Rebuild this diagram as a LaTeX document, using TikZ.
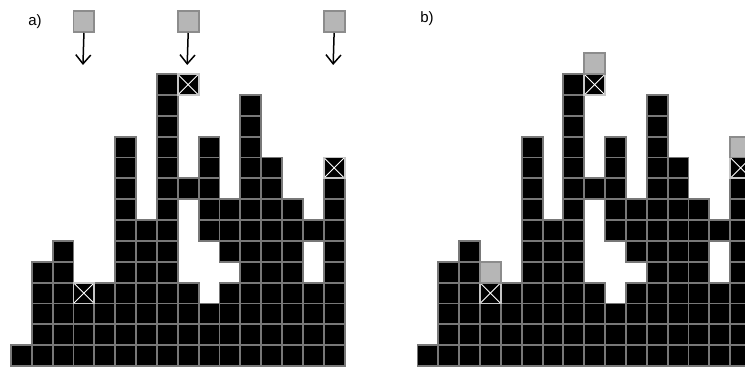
\documentclass[tikz,border=0pt]{standalone}
\usepackage{fontspec}
\setmainfont{Liberation Sans}
\usepackage{xcolor}
\usetikzlibrary{arrows.meta}

\definecolor{gridline}{RGB}{120,120,120}
\definecolor{dropfill}{RGB}{182,182,182}
\definecolor{dropline}{RGB}{140,140,140}

\begin{document}
\begin{tikzpicture}[x=1pt, y=1pt,
    cell/.style={draw=gridline, line width=1.9pt, fill=black, minimum size=20.85pt, inner sep=0pt, anchor=south west},
    xcell/.style={cell, draw=gray!45, path picture={\draw[white, line width=0.9pt] (path picture bounding box.south west) -- (path picture bounding box.north east) (path picture bounding box.north west) -- (path picture bounding box.south east);}},
    drop/.style={cell, draw=dropline, fill=dropfill},
    fall/.style={-{Straight Barb[length=9pt, width=15pt]}, line width=1.5pt},
    tag/.style={font=\fontsize{15}{17}\selectfont, inner sep=0pt}]
    \useasboundingbox (0,0) rectangle (745,367);
    \clip (0,0) rectangle (745,367);
    \def\pitch{20.85}
    % both panels share the same heap
    \foreach \p/\dx in {a/10, b/416.5} {
        \foreach \c/\from/\to in {0/0/0, 1/0/4, 2/0/5, 3/0/2, 4/0/3, 5/0/10, 6/0/6, 7/0/13,
                8/0/3, 8/8/8, 9/0/2, 9/6/10, 10/0/3, 10/5/7, 11/0/12, 12/0/9, 13/0/7,
                14/0/3, 14/6/6, 15/0/8}
            \foreach \r in {\from,...,\to}
                \node[cell] (\p-\c-\r) at (\dx+\c*\pitch, \r*\pitch) {};
        % landing spots
        \foreach \c/\r in {3/3, 8/13, 15/9}
            \node[xcell] (\p-\c-\r) at (\dx+\c*\pitch, \r*\pitch) {};
    }
    % a) blocks falling
    \node[tag] (la) at (35,345) {a)};
    \foreach \c in {3, 8, 15} {
        \node[drop] (ga\c) at (10+\c*\pitch, 334) {};
        \coordinate (ta\c) at (10+\c*\pitch+10.4, 302);
        \draw[fall] (ga\c.south) -- (ta\c);
    }
    % b) blocks landed
    \node[tag] (lb) at (427,348) {b)};
    \foreach \c/\r in {3/4, 8/14, 15/10}
        \node[drop] (gb\c) at (416.5+\c*\pitch, \r*\pitch) {};
\end{tikzpicture}
\end{document}
